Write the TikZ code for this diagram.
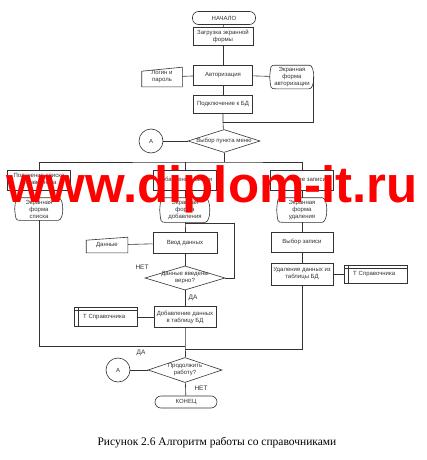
\documentclass[tikz,border=0pt]{standalone}
\usepackage{fontspec}
\setmainfont{Liberation Serif}
\newfontfamily\flowfont{Liberation Sans}
\usepackage{tikz}
\usetikzlibrary{shapes.geometric}
\colorlet{flowgray}{black!80}
\colorlet{markred}{red!95!black}

\newcommand{\dispshape}[1]{%
  \draw ([xshift=6pt]#1.north west) -- ([xshift=-5pt]#1.north east)
    .. controls ([xshift=1pt]#1.north east) and ([xshift=1pt]#1.south east) .. ([xshift=-5pt]#1.south east)
    -- ([xshift=6pt]#1.south west)
    .. controls ([xshift=1pt]#1.south west) .. (#1.west)
    .. controls ([xshift=1pt]#1.north west) .. ([xshift=6pt]#1.north west);}
\newcommand{\manualin}[2]{%
  \draw ([yshift=-#2]#1.north west) -- (#1.north east) -- (#1.south east) -- (#1.south west) -- cycle;}

\begin{document}
\begin{tikzpicture}[x=1pt, y=-1pt, line width=0.6pt, color=flowgray,
  every node/.style={font=\flowfont\fontsize{6}{7}\selectfont},
  proc/.style={draw, rectangle, inner sep=0pt, align=center, minimum width=62pt, minimum height=20pt},
  term/.style={draw, rectangle, rounded corners=6pt, inner sep=0pt, minimum width=62pt, minimum height=13pt},
  disp/.style={inner sep=0pt, align=center, minimum width=48pt, minimum height=23pt},
  manual/.style={inner sep=0pt, align=center, minimum width=41pt, minimum height=16pt},
  store/.style={draw, inner sep=0pt, text width=46pt, align=left, minimum width=63pt, minimum height=19pt,
    path picture={
      \draw ([xshift=4pt]path picture bounding box.north west) -- ([xshift=4pt]path picture bounding box.south west);
      \draw ([yshift=-3pt]path picture bounding box.north west) -- ([yshift=-3pt]path picture bounding box.north east);}},
  choice/.style={draw, diamond, aspect=3, inner sep=-1.5pt, align=center, minimum width=74pt, minimum height=24pt},
  conn/.style={draw, circle, inner sep=0pt, minimum size=24pt},
  tag/.style={font=\flowfont\fontsize{6.5}{7}\selectfont}]
  \fill[white] (0, 0) rectangle (427, 460);
  \useasboundingbox (0, 0) rectangle (427, 460);

  % top part
  \node[term, minimum width=63pt] (start) at (224, 18) {НАЧАЛО};
  \node[proc, minimum width=60pt, minimum height=18pt] (load) at (223, 36) {Загрузка экранной\\формы};
  \node[proc, minimum width=59pt] (auth) at (223, 75) {Авторизация};
  \node[manual, minimum width=40pt, minimum height=19pt] (login) at (162, 77) {Логин и\\пароль};
  \node[disp, minimum width=44pt] (authform) at (292, 77) {Экранная\\форма\\авторизации};
  \node[proc, minimum width=59pt, minimum height=18pt] (dbconn) at (223, 104) {Подключение к БД};
  \node[choice, minimum width=72pt, minimum height=23pt] (menu) at (224, 141) {Выбор пункта меню};
  \node[conn] (conA) at (151, 141) {A};
  \manualin{login}{4pt}
  \dispshape{authform}

  % three branches
  \node[proc, minimum width=63pt] (list) at (39, 180) {Получение списка\\справочника};
  \node[proc, minimum width=63pt] (add) at (185, 180) {Добавление записи};
  \node[proc, minimum width=63pt] (del) at (302, 180) {Удаление записи};
  \node[disp, minimum height=22pt] (listform) at (39, 209) {Экранная\\форма\\списка};
  \node[disp, minimum width=50pt, minimum height=24pt] (addform) at (185, 210) {Экранная\\форма\\добавления};
  \node[disp, minimum width=50pt, minimum height=24pt] (delform) at (302, 210) {Экранная\\форма\\удаления};
  \dispshape{listform}
  \dispshape{addform}
  \dispshape{delform}

  % adding
  \node[manual, minimum height=15pt] (data) at (107, 245) {Данные};
  \node[proc, minimum width=64pt, minimum height=21pt] (input) at (185, 243) {Ввод данных};
  \node[choice, minimum width=80pt, minimum height=23pt] (check) at (185, 278) {Данные введены\\верно?};
  \node[proc, minimum height=21pt] (save) at (185, 317) {Добавление данных\\в таблицу БД};
  \node[store] (ref1) at (106, 317) {Т Справочника};
  \manualin{data}{3pt}

  % deleting
  \node[proc] (pick) at (302, 242) {Выбор записи};
  \node[proc, minimum height=22pt] (remove) at (302, 274) {Удаление данных из\\таблицы БД};
  \node[store, minimum height=18pt] (ref2) at (376, 274) {Т Справочника};

  % end part
  \node[choice, minimum height=25pt] (cont) at (185, 370) {Продолжить\\работу?};
  \node[conn] (conA2) at (118, 370) {A};
  \node[term, minimum height=12pt] (finish) at (186, 402) {КОНЕЦ};

  \node[tag] (no1) at (142, 267) {НЕТ};
  \node[tag] (yes1) at (193, 298) {ДА};
  \node[tag] (yes2) at (141, 353) {ДА};
  \node[tag] (no2) at (201, 388) {НЕТ};

  % connectors
  \coordinate (jauth) at (223, 122);
  \coordinate (jmenu) at (224, 162);
  \coordinate (jin) at (185, 223);
  \coordinate (jlist) at (185, 346);
  \coordinate (jdel) at (185, 349);
  \draw (start) -- (load);
  \draw (load) -- (auth);
  \draw (login) -- (auth);
  \draw (auth) -- (authform);
  \draw (auth) -- (dbconn);
  \draw (dbconn) -- (jauth) -- (menu);
  \draw ([xshift=-1pt]authform.east) |- (jauth);
  \draw (conA) -- (menu);
  \draw (menu) -- (jmenu);
  \draw (list.north) |- (jmenu) -| (del.north);
  \draw (add.north) -- (add.north |- jmenu);
  \draw (list) -- (listform);
  \draw (add) -- (addform);
  \draw (del) -- (delform);
  \draw (addform) -- (jin) -- (input);
  \draw (data) -- (input);
  \draw (input) -- (check);
  \draw (check.east) -- ++(9, 0) |- (jin);
  \draw (check) -- (save);
  \draw (ref1) -- (save);
  \draw (delform) -- (pick);
  \draw (pick) -- (remove);
  \draw (ref2) -- (remove);
  \draw (listform) |- (jlist);
  \draw (remove) |- (jdel);
  \draw (save) -- (jlist) -- (cont);
  \draw (conA2) -- (cont);
  \draw (cont) -- (finish);

  \node[font=\rmfamily\fontsize{11.5}{13}\selectfont, text=black] (caption) at (217, 443) {Рисунок 2.6 Алгоритм работы со справочниками};
  \node[font=\flowfont\bfseries\fontsize{51}{51}\selectfont, text=red, anchor=base] (mark) at (212, 202) {www.diplom-it.ru};
\end{tikzpicture}
\end{document}
